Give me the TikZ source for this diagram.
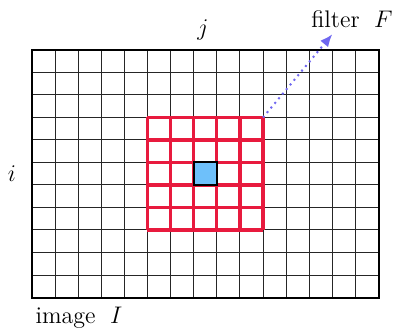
\documentclass[tikz,border=0pt]{standalone}
\usepackage{tikz}
\usetikzlibrary{arrows.meta}
\definecolor{winred}{RGB}{232,26,62}
\definecolor{pixblue}{RGB}{110,192,250}
\definecolor{arrblue}{RGB}{112,104,240}

\begin{document}
\begin{tikzpicture}[
    x=11.55pt, y=-11.25pt,
    every node/.style={font=\large},
    gridline/.style={black!85, line width=0.5pt},
    winline/.style={winred, line width=1.6pt},
    pixbox/.style={draw=black, line width=1pt, fill=pixblue},
    arr/.style={-{Latex[length=2.2mm, width=1.8mm]}, arrblue, line width=1pt, dotted},
]
\useasboundingbox (-1.385,-2.222) rectangle (15.844,12.4);
% image grid
\foreach \x in {1,...,14} \draw[gridline] (\x,0) -- (\x,11);
\foreach \y in {1,...,10} \draw[gridline] (0,\y) -- (15,\y);
\draw[line width=1pt] (0,0) rectangle (15,11);
% filter window
\foreach \x in {5,...,10} \draw[winline] (\x,3) -- (\x,8);
\foreach \y in {3,...,8} \draw[winline] (5,\y) -- (10,\y);
\draw[pixbox] (7,5) rectangle (8,6);

\coordinate (win) at (10,3);
\coordinate (tip) at (13.0,-0.7);
\draw[arr] (win) -- (tip);

\node (j)      at (7.4,-0.9)              {$j$};
\node (i)      at (-0.87,5.5)             {$i$};
\node[anchor=base] (filter) at (13.85,-1.02) {filter\hspace{0.6em}$F$};
\node[anchor=base] (image)  at (2.03,12.15)  {image\hspace{0.6em}$I$};
\end{tikzpicture}
\end{document}
